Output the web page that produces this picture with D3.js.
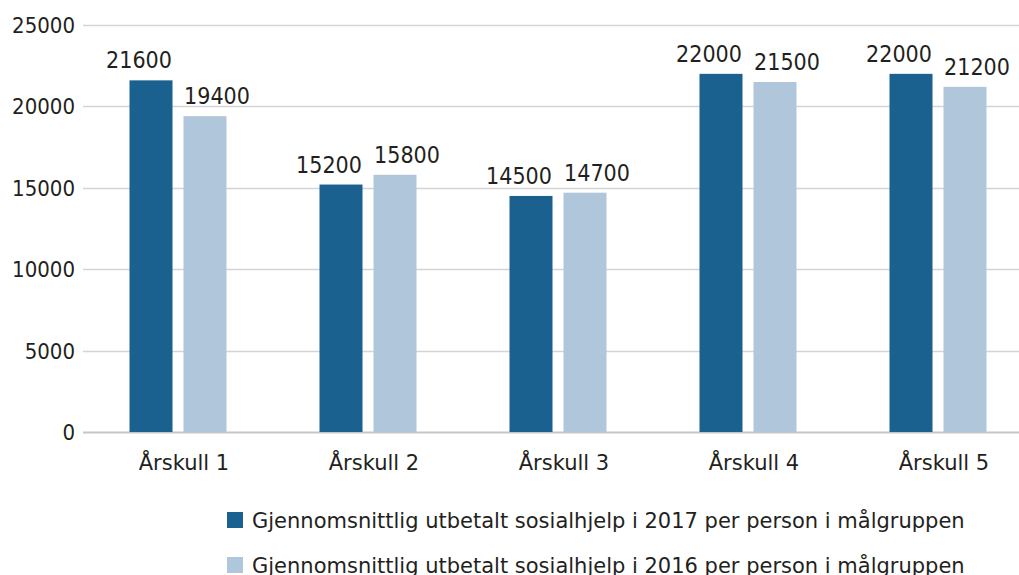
<html>
  <head>
    <meta charset="utf-8">
    <script src="https://d3js.org/d3.v7.min.js"></script>
    <style>
      body { margin: 0; background: #fff; }
      text { font-family: "DejaVu Sans", sans-serif; fill: #231f20; }
      .cond { font-family: "DejaVu Sans Condensed", "DejaVu Sans", sans-serif; font-stretch: condensed; }
    </style>
  </head>
  <body>
    <script>
      var w = 1019;
      var h = 575;

      var categories = ["Årskull 1", "Årskull 2", "Årskull 3", "Årskull 4", "Årskull 5"];
      var series2017 = [21600, 15200, 14500, 22000, 22000];
      var series2016 = [19400, 15800, 14700, 21500, 21200];
      var seriesNames = [
        "Gjennomsnittlig utbetalt sosialhjelp i 2017 per person i målgruppen",
        "Gjennomsnittlig utbetalt sosialhjelp i 2016 per person i målgruppen"
      ];
      var yTicks = [0, 5000, 10000, 15000, 20000, 25000];
      var colors = ["#1b6190", "#afc6db"];

      var svg = d3.select("body")
        .append("svg")
        .attr("width", w)
        .attr("height", h);

      var x = d3.scaleBand()
        .domain(categories)
        .range([83, 1033]);

      var y = d3.scaleLinear()
        .domain([0, 25000])
        .range([432, 25]);

      var barW = 43, gap = 11;

      // gridlines
      svg.selectAll(".grid")
        .data(yTicks)
        .enter()
        .append("line")
        .attr("class", "grid")
        .attr("x1", 83)
        .attr("x2", w)
        .attr("y1", function(d){return Math.round(y(d)) + 0.5;})
        .attr("y2", function(d){return Math.round(y(d)) + 0.5;})
        .attr("stroke", function(d){return d === 0 ? "#c6c6c6" : "#d4d4d4";})
        .attr("stroke-width", function(d){return d === 0 ? 2 : 1.5;});

      // y tick labels
      svg.selectAll(".ylab")
        .data(yTicks)
        .enter()
        .append("text")
        .attr("class", "ylab cond")
        .attr("x", 75)
        .attr("y", function(d){return y(d) + 8;})
        .attr("text-anchor", "end")
        .attr("font-size", 22)
        .text(function(d){return d;});

      var rows = categories.map(function(c, i){
        return [series2017[i], series2016[i]];
      });

      var groups = svg.selectAll(".grp")
        .data(rows)
        .enter()
        .append("g")
        .attr("class", "grp")
        .attr("transform", function(d, i){
          return "translate(" + (x(categories[i]) + x.bandwidth() / 2) + ",0)";
        });

      function barX(j){ return j === 0 ? -(barW + gap / 2) : gap / 2; }

      groups.selectAll("rect")
        .data(function(d){return d;})
        .enter()
        .append("rect")
        .attr("x", function(d, j){return barX(j);})
        .attr("width", barW)
        .attr("y", function(d){return y(d);})
        .attr("height", function(d){return y(0) - y(d);})
        .attr("fill", function(d, j){return colors[j];});

      // value labels, nudged apart like the original
      groups.selectAll(".val")
        .data(function(d){return d;})
        .enter()
        .append("text")
        .attr("class", "val cond")
        .attr("x", function(d, j){return barX(j) + barW / 2 + (j === 0 ? -12 : 12);})
        .attr("y", function(d){return y(d) - 12;})
        .attr("text-anchor", "middle")
        .attr("font-size", 23)
        .text(function(d){return d;});

      // category labels
      svg.selectAll(".xlab")
        .data(categories)
        .enter()
        .append("text")
        .attr("class", "xlab")
        .attr("x", function(d){return x(d) + x.bandwidth() / 2 + 6;})
        .attr("y", 470)
        .attr("text-anchor", "middle")
        .attr("font-size", 21)
        .text(function(d){return d;});

      // legend
      var legend = svg.selectAll(".leg")
        .data(seriesNames)
        .enter()
        .append("g")
        .attr("class", "leg")
        .attr("transform", function(d, i){return "translate(227," + (512 + i * 45) + ")";});

      legend.append("rect")
        .attr("width", 16)
        .attr("height", 16)
        .attr("fill", function(d, i){return colors[i];});

      legend.append("text")
        .attr("x", 25)
        .attr("y", 16)
        .attr("font-size", 21)
        .text(function(d){return d;});
    </script>
  </body>
</html>
